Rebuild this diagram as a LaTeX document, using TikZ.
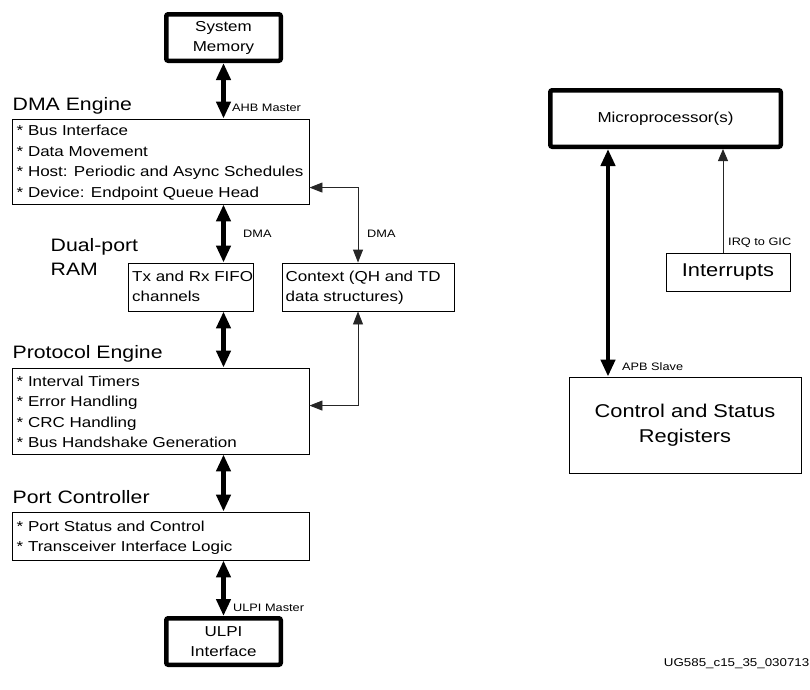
\documentclass[tikz,border=0pt]{standalone}
\usepackage{fontspec}
\setmainfont{Liberation Sans}[FakeStretch=1.18]
\usetikzlibrary{arrows.meta}
\newcommand\fsz[2]{\fontsize{#1}{#2}\selectfont}
\begin{document}
\begin{tikzpicture}[x=1pt,y=-1pt,
  thinbox/.style={draw=black, line width=0.9pt, inner sep=0pt},
  thickbox/.style={draw=black, line width=4.5pt, rounded corners=2pt, inner sep=0pt, align=center, font=\fsz{14.4}{20}},
  headtxt/.style={inner sep=0pt, anchor=base west, align=left, font=\fsz{18}{23.3}},
  itemtxt/.style={inner sep=0pt, anchor=base west, align=left, font=\fsz{14.4}{20.5}},
  lbl/.style={inner sep=0pt, anchor=west, font=\fsz{10.8}{13}},
  bus/.style={line width=4.3pt, {Triangle[length=17pt,width=14pt]}-{Triangle[length=17pt,width=14pt]}},
  link/.style={line width=0.9pt, draw=black!85, {Triangle[length=13pt,width=10pt]}-{Triangle[length=13pt,width=10pt]}},
  linkone/.style={line width=0.9pt, draw=black!85, -{Triangle[length=12pt,width=10pt]}}
]
\useasboundingbox (0,0) rectangle (810,689);

% ---- left column boxes ----
\node[thickbox, minimum width=114.5pt, minimum height=46.5pt] (sysmem) at (223.5,37.5) {System\\Memory};
\node[thinbox, minimum width=297pt, minimum height=85pt] (dma) at (160.5,161.5) {};
\node[thinbox, minimum width=125pt, minimum height=48pt] (txrx) at (190.5,287) {};
\node[thinbox, minimum width=172pt, minimum height=48pt] (ctx) at (368,287) {};
\node[thinbox, minimum width=297pt, minimum height=86pt] (pe) at (160.5,411) {};
\node[thinbox, minimum width=297pt, minimum height=48pt] (pc) at (160.5,536) {};
\node[thickbox, minimum width=114.5pt, minimum height=46.5pt] (ulpi) at (223.5,641.5) {ULPI\\Interface};

% ---- headings (base anchor = baseline of the last line) ----
\node[headtxt] (hdma) at (12.5,110) {DMA Engine};
\node[headtxt] (hdp) at (50.5,275) {Dual-port\\RAM};
\node[headtxt] (hpe) at (12.5,358) {Protocol Engine};
\node[headtxt] (hpc) at (12.5,503) {Port Controller};

% ---- box contents ----
\node[itemtxt] (tdma) at (16.5,197) {* Bus Interface\\* Data Movement\\* Host: Periodic and Async Schedules\\* Device: Endpoint Queue Head};
\node[itemtxt, font=\fsz{14.4}{20}] (ttx) at (132,301.7) {Tx and Rx FIFO\\channels};
\node[itemtxt, font=\fsz{14.4}{20}] (tctx) at (285.5,301.7) {Context (QH and TD\\data structures)};
\node[itemtxt] (tpe) at (16.5,447.5) {* Interval Timers\\* Error Handling\\* CRC Handling\\* Bus Handshake Generation};
\node[itemtxt, font=\fsz{14.4}{19.5}] (tpc) at (16.5,551.2) {* Port Status and Control\\* Transceiver Interface Logic};

% ---- right column ----
\node[thickbox, minimum width=230.5pt, minimum height=56.5pt] (micro) at (665.5,118.5) {Microprocessor(s)};
\node[thinbox, minimum width=124pt, minimum height=38pt, font=\fsz{18.5}{24}] (intr) at (728,272) {Interrupts};
\node[thinbox, minimum width=232pt, minimum height=96pt, align=center, font=\fsz{18.5}{25}] (csr) at (685,425) {Control and Status\\Registers};

% ---- thick buses ----
\draw[bus] (sysmem.south) -- (dma.north -| sysmem.south);
\draw[bus] (dma.south -| sysmem.south) -- (txrx.north -| sysmem.south);
\draw[bus] (txrx.south -| sysmem.south) -- (pe.north -| sysmem.south);
\draw[bus] (pe.south -| sysmem.south) -- (pc.north -| sysmem.south);
\draw[bus] (pc.south -| sysmem.south) -- (ulpi.north);
\coordinate (mbus) at ([xshift=-57.5pt]micro.south);
\draw[bus] (mbus) -- (mbus |- csr.north);

% ---- thin links ----
\draw[link] ([yshift=-69pt]dma.north east) -| ([xshift=-10pt]ctx.north);
\draw[link] ([xshift=-10pt]ctx.south) |- ([yshift=-38pt]pe.north east);
\coordinate (irq) at ([xshift=-5pt]intr.north);
\draw[linkone] (irq) -- (irq |- micro.south);

% ---- labels ----
\node[lbl] (lahb) at (232,107.5) {AHB Master};
\node[lbl] (ldma1) at (243,233.5) {DMA};
\node[lbl] (ldma2) at (367,233.5) {DMA};
\node[lbl] (lulpi) at (233,607.5) {ULPI Master};
\node[lbl] (lapb) at (622,367) {APB Slave};
\node[lbl] (lirq) at (728,243) {IRQ to GIC};
\node[inner sep=0pt, anchor=east, font=\fsz{11.3}{13}] (foot) at (809.5,664) {UG585\_c15\_35\_030713};
\end{tikzpicture}
\end{document}
